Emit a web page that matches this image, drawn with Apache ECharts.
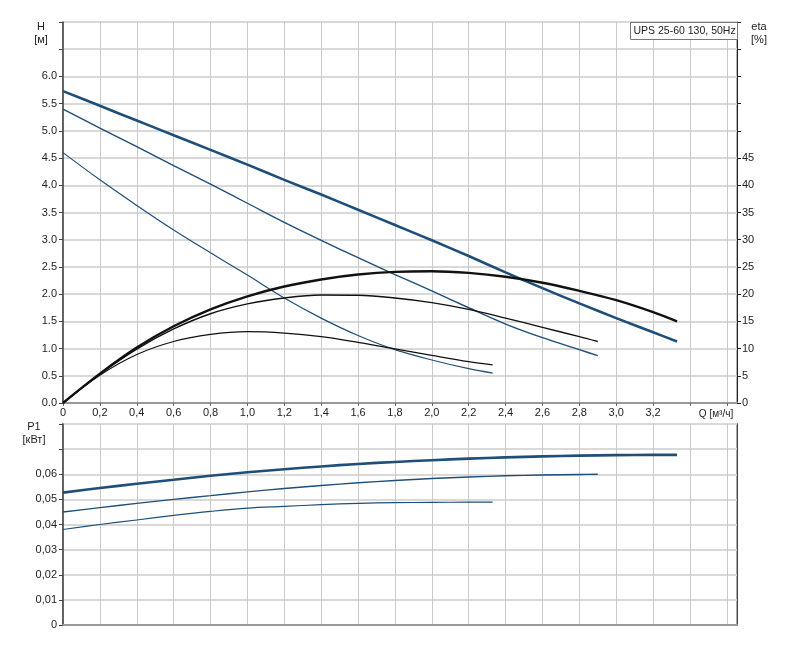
<!DOCTYPE html>
<html>
<head>
<meta charset="utf-8">
<script src="https://cdn.jsdelivr.net/npm/echarts@6/dist/echarts.min.js"></script>
<style>
  html, body { margin: 0; padding: 0; background: #fff; }
  #chart { width: 788px; height: 650px; }
</style>
</head>
<body>
<div id="chart"></div>
<script>
// кривые насоса UPS 25-60 130, три скорости
// скорость 3 (толстые линии)
const q3 = [0, 0.2, 0.4, 0.6, 0.8, 1.0, 1.2, 1.4, 1.6, 1.8, 2.0, 2.2, 2.4, 2.6, 2.8, 3.0, 3.2, 3.33];
const h3 = [5.73, 5.46, 5.19, 4.92, 4.65, 4.38, 4.10, 3.83, 3.55, 3.27, 2.99, 2.70, 2.40, 2.11, 1.83, 1.56, 1.30, 1.13];
const eta3 = [0, 5.4, 10.2, 14.1, 17.2, 19.6, 21.4, 22.7, 23.6, 24.1, 24.2, 23.9, 23.2, 22.1, 20.6, 18.9, 16.7, 15.0];
const p3 = [0.0527, 0.0545, 0.0562, 0.0578, 0.0594, 0.0608, 0.0620, 0.0631, 0.0641, 0.0649, 0.0656, 0.0662, 0.0667, 0.0671, 0.0674, 0.0676, 0.0677, 0.0677];

// скорость 2
const q2 = [0, 0.2, 0.4, 0.6, 0.8, 1.0, 1.2, 1.4, 1.6, 1.8, 2.0, 2.2, 2.4, 2.6, 2.8, 2.9];
const h2 = [5.40, 5.05, 4.71, 4.36, 4.02, 3.67, 3.32, 2.99, 2.67, 2.36, 2.06, 1.75, 1.45, 1.20, 0.98, 0.87];
const eta2 = [0, 5.3, 9.9, 13.6, 16.4, 18.2, 19.3, 19.85, 19.8, 19.3, 18.45, 17.2, 15.6, 13.9, 12.2, 11.3];
const p2 = [0.0450, 0.0467, 0.0484, 0.0500, 0.0515, 0.0530, 0.0543, 0.0555, 0.0566, 0.0575, 0.0583, 0.0589, 0.0594, 0.0597, 0.0599, 0.0600];

// скорость 1 (тонкие линии)
const q1 = [0, 0.2, 0.4, 0.6, 0.8, 1.0, 1.2, 1.4, 1.6, 1.8, 2.0, 2.2, 2.33];
const h1 = [4.60, 4.10, 3.63, 3.18, 2.76, 2.35, 1.93, 1.56, 1.24, 0.98, 0.79, 0.63, 0.55];
const eta1 = [0, 5.1, 8.9, 11.3, 12.6, 13.1, 12.85, 12.2, 11.15, 9.95, 8.75, 7.6, 7.0];
const p1 = [0.0380, 0.0400, 0.0418, 0.0436, 0.0452, 0.0465, 0.0472, 0.0479, 0.0484, 0.0487, 0.0488, 0.0489, 0.0489];

const title = "UPS 25-60 130, 50Hz";

const FONT = "Liberation Sans";
const BLUE = "#1f4e79";
const BLACK = "#111";

const zip = (xs, ys) => xs.map((x, i) => [x, ys[i]]);
const comma = (v) => String(v).replace(".", ",");

const line = (name, xi, yi, data, color, width) => ({
  name: name,
  type: "line",
  xAxisIndex: xi,
  yAxisIndex: yi,
  data: data,
  smooth: 0.35,
  showSymbol: false,
  silent: true,
  lineStyle: { color: color, width: width },
});

const xAxisBase = (gi, showLabels) => ({
  type: "value",
  gridIndex: gi,
  min: 0,
  max: 3.655,
  interval: 0.2,
  axisLine: { show: true, onZero: false, lineStyle: { color: "#999", width: 2 } },
  axisTick: { show: showLabels, length: 3, lineStyle: { color: "#666" } },
  axisLabel: {
    show: showLabels,
    margin: 4,
    fontFamily: FONT,
    fontSize: 11,
    color: "#222",
    showMaxLabel: false,
    formatter: (v) => (v > 3.3 ? "" : v === 0 ? "0" : comma(v.toFixed(1))),
  },
  splitLine: { show: true, lineStyle: { color: "#cacaca", width: 1 } },
});

const chart = echarts.init(document.getElementById("chart"));
chart.setOption({
  animation: false,
  backgroundColor: "#fff",
  grid: [
    { left: 63, top: 22, width: 674, height: 381, show: true, borderColor: "#666", borderWidth: 1 },
    { left: 63, top: 424, width: 674, height: 201, show: true, borderColor: "#aaa", borderWidth: 2 },
  ],
  xAxis: [xAxisBase(0, true), xAxisBase(1, false)],
  yAxis: [
    {
      type: "value",
      gridIndex: 0,
      min: 0,
      max: 7,
      interval: 0.5,
      axisLine: { show: true, lineStyle: { color: "#444", width: 1.5 } },
      axisTick: { show: true, length: 4, lineStyle: { color: "#444" } },
      axisLabel: {
        margin: 6,
        fontFamily: FONT,
        fontSize: 11,
        color: "#222",
        formatter: (v) => (v > 6.01 ? "" : v.toFixed(1)),
      },
      splitLine: { show: true, lineStyle: { color: "#d9d9d9", width: 2 } },
    },
    {
      type: "value",
      gridIndex: 0,
      position: "right",
      min: 0,
      max: 70,
      interval: 5,
      axisLine: { show: true, lineStyle: { color: "#222", width: 1 } },
      axisTick: { show: true, length: 4, lineStyle: { color: "#222" } },
      axisLabel: {
        margin: 5,
        fontFamily: FONT,
        fontSize: 11,
        color: "#222",
        formatter: (v) => (v > 45 ? "" : String(v)),
      },
      splitLine: { show: false },
    },
    {
      type: "value",
      gridIndex: 1,
      min: 0,
      max: 0.08,
      interval: 0.01,
      axisLine: { show: true, lineStyle: { color: "#444", width: 1.5 } },
      axisTick: { show: true, length: 4, lineStyle: { color: "#444" } },
      axisLabel: {
        margin: 6,
        fontFamily: FONT,
        fontSize: 11,
        color: "#222",
        formatter: (v) => (v === 0 ? "0" : v > 0.065 ? "" : comma(v.toFixed(2))),
      },
      splitLine: { show: true, lineStyle: { color: "#d9d9d9", width: 2 } },
    },
    {
      type: "value",
      gridIndex: 1,
      position: "right",
      min: 0,
      max: 1,
      axisLine: { show: true, lineStyle: { color: "#444", width: 1 } },
      axisTick: { show: false },
      axisLabel: { show: false },
      splitLine: { show: false },
    },
  ],
  series: [
    line("H3", 0, 0, zip(q3, h3), BLUE, 2.6),
    line("H2", 0, 0, zip(q2, h2), BLUE, 1.4),
    line("H1", 0, 0, zip(q1, h1), BLUE, 1.2),
    line("eta3", 0, 1, zip(q3, eta3), BLACK, 2.4),
    line("eta2", 0, 1, zip(q2, eta2), BLACK, 1.4),
    line("eta1", 0, 1, zip(q1, eta1), BLACK, 1.2),
    line("P3", 1, 2, zip(q3, p3), BLUE, 2.6),
    line("P2", 1, 2, zip(q2, p2), BLUE, 1.4),
    line("P1", 1, 2, zip(q1, p1), BLUE, 1.2),
  ],
  graphic: [
    { type: "text", x: 41, y: 27, style: { text: "H", font: "11px " + FONT, fill: "#222", align: "center", verticalAlign: "middle" } },
    { type: "text", x: 41, y: 40, style: { text: "[м]", font: "11px " + FONT, fill: "#222", align: "center", verticalAlign: "middle" } },
    { type: "text", x: 759, y: 27, style: { text: "eta", font: "11px " + FONT, fill: "#222", align: "center", verticalAlign: "middle" } },
    { type: "text", x: 759, y: 40, style: { text: "[%]", font: "11px " + FONT, fill: "#222", align: "center", verticalAlign: "middle" } },
    { type: "text", x: 34, y: 427, style: { text: "P1", font: "11px " + FONT, fill: "#222", align: "center", verticalAlign: "middle" } },
    { type: "text", x: 34, y: 440, style: { text: "[кВт]", font: "11px " + FONT, fill: "#222", align: "center", verticalAlign: "middle" } },
    { type: "text", x: 716, y: 414, style: { text: "Q [м³/ч]", font: "10px " + FONT, fill: "#222", align: "center", verticalAlign: "middle" } },
    {
      type: "group",
      left: 630,
      top: 22,
      z: 100,
      children: [
        { type: "rect", z: 100, shape: { x: 0, y: 0, width: 107, height: 17 }, style: { fill: "#fff", stroke: "#777", lineWidth: 1 } },
        { type: "text", z: 101, x: 3, y: 9, style: { text: title, font: "10.5px " + FONT, fill: "#222", verticalAlign: "middle" } },
      ],
    },
  ],
});
</script>
</body>
</html>
